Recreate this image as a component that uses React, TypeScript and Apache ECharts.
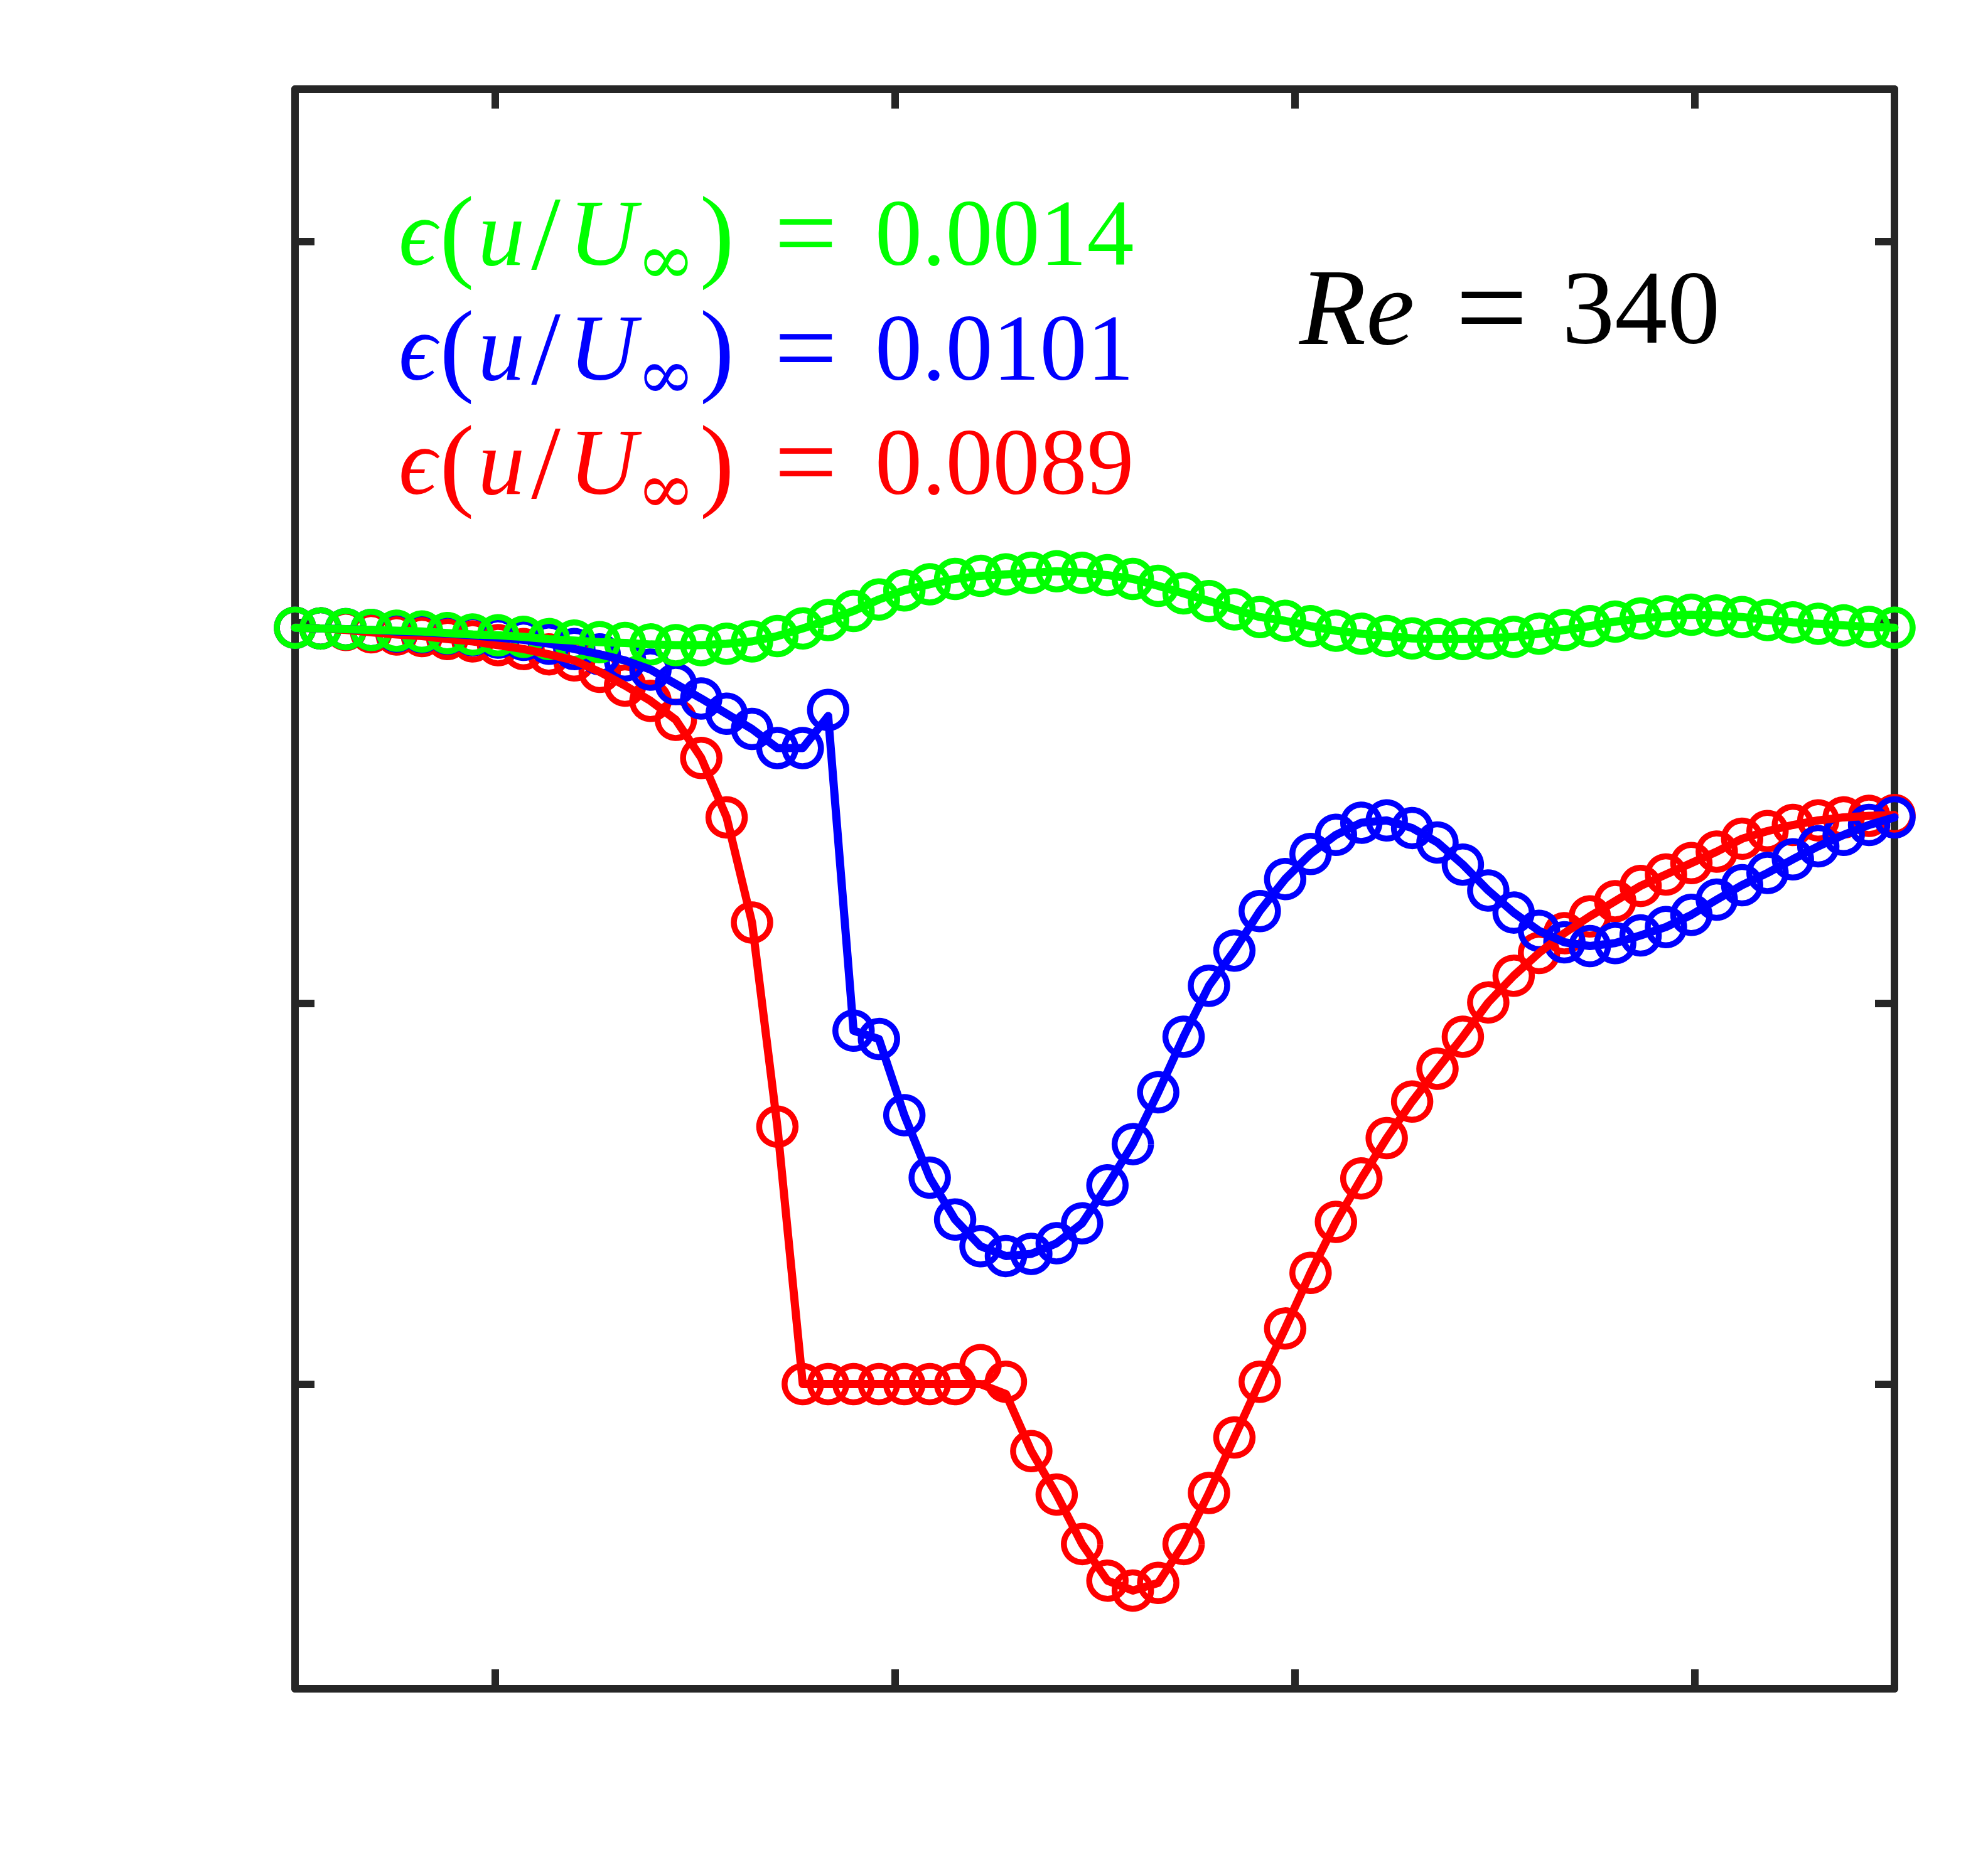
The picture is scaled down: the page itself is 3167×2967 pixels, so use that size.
import React, { useEffect, useRef } from "react";
import * as echarts from "echarts";

// x positions of the 64 samples (axis spans 0..4, unlabeled ticks at 0.5, 1.5, 2.5, 3.5)
const X = [
  0, 0.0635, 0.127, 0.1905, 0.254, 0.3175, 0.381, 0.4444, 0.5079, 0.5714,
  0.6349, 0.6984, 0.7619, 0.8254, 0.8889, 0.9524, 1.0159, 1.0794, 1.1429, 1.2063,
  1.2698, 1.3333, 1.3968, 1.4603, 1.5238, 1.5873, 1.6508, 1.7143, 1.7778, 1.8413,
  1.9048, 1.9683, 2.0317, 2.0952, 2.1587, 2.2222, 2.2857, 2.3492, 2.4127, 2.4762,
  2.5397, 2.6032, 2.6667, 2.7302, 2.7937, 2.8571, 2.9206, 2.9841, 3.0476, 3.1111,
  3.1746, 3.2381, 3.3016, 3.3651, 3.4286, 3.4921, 3.5556, 3.619, 3.6825, 3.746,
  3.8095, 3.873, 3.9365, 4.0,
];

const GREEN = [
  0.993, 0.992, 0.991, 0.99, 0.989, 0.988, 0.986, 0.984, 0.983, 0.981,
  0.978, 0.976, 0.974, 0.973, 0.971, 0.97, 0.97, 0.972, 0.975, 0.982,
  0.992, 1.003, 1.015, 1.03, 1.042, 1.05, 1.057, 1.061, 1.063, 1.065,
  1.067, 1.065, 1.062, 1.057, 1.048, 1.038, 1.028, 1.017, 1.007, 1.002,
  0.995, 0.989, 0.985, 0.982, 0.979, 0.978, 0.978, 0.979, 0.981, 0.985,
  0.99, 0.995, 1.001, 1.005, 1.008, 1.01, 1.009, 1.007, 1.003, 1.0,
  0.998, 0.996, 0.994, 0.993,
];

const BLUE = [
  0.993, 0.992, 0.991, 0.99, 0.988, 0.987, 0.985, 0.983, 0.98, 0.977,
  0.972, 0.965, 0.958, 0.95, 0.938, 0.919, 0.9, 0.88, 0.86, 0.835,
  0.835, 0.885, 0.464, 0.453, 0.353, 0.271, 0.216, 0.181, 0.168, 0.171,
  0.185, 0.211, 0.261, 0.315, 0.383, 0.456, 0.523, 0.569, 0.621, 0.663,
  0.696, 0.721, 0.737, 0.74, 0.73, 0.711, 0.682, 0.648, 0.619, 0.595,
  0.58, 0.575, 0.579, 0.589, 0.6, 0.616, 0.636, 0.655, 0.671, 0.689,
  0.706, 0.721, 0.734, 0.744,
];

const BLUE_LINE = [
  0.993, 0.992, 0.991, 0.99, 0.988, 0.987, 0.985, 0.983, 0.98, 0.977,
  0.972, 0.965, 0.958, 0.95, 0.938, 0.919, 0.9, 0.88, 0.86, 0.835,
  0.835, 0.877, 0.464, 0.453, 0.353, 0.271, 0.216, 0.181, 0.168, 0.171,
  0.185, 0.211, 0.261, 0.315, 0.383, 0.456, 0.523, 0.569, 0.621, 0.663,
  0.696, 0.721, 0.737, 0.74, 0.73, 0.711, 0.682, 0.648, 0.619, 0.595,
  0.58, 0.575, 0.579, 0.589, 0.6, 0.616, 0.636, 0.655, 0.671, 0.689,
  0.706, 0.721, 0.734, 0.744,
];

const RED = [
  0.993, 0.992, 0.99, 0.987, 0.984, 0.982, 0.978, 0.975, 0.97, 0.965,
  0.958, 0.95, 0.935, 0.917, 0.897, 0.872, 0.822, 0.744, 0.606, 0.338,
  0, 0, 0, 0, 0, 0, 0, 0.025, 0.003, -0.088,
  -0.145, -0.21, -0.258, -0.271, -0.261, -0.21, -0.143, -0.07, 0.003, 0.073,
  0.146, 0.213, 0.27, 0.323, 0.371, 0.414, 0.456, 0.501, 0.536, 0.566,
  0.592, 0.614, 0.634, 0.654, 0.669, 0.684, 0.699, 0.716, 0.726, 0.734,
  0.74, 0.744, 0.746, 0.747,
];

const RED_LINE = [
  0.993, 0.992, 0.99, 0.987, 0.984, 0.982, 0.978, 0.975, 0.97, 0.965,
  0.958, 0.95, 0.935, 0.917, 0.897, 0.872, 0.822, 0.744, 0.606, 0.338,
  0, 0, 0, 0, 0, 0, 0, 0, -0.013, -0.088,
  -0.145, -0.21, -0.258, -0.271, -0.261, -0.21, -0.143, -0.07, 0.003, 0.073,
  0.146, 0.213, 0.27, 0.323, 0.371, 0.414, 0.456, 0.501, 0.536, 0.566,
  0.592, 0.614, 0.634, 0.654, 0.669, 0.684, 0.699, 0.716, 0.726, 0.734,
  0.74, 0.744, 0.746, 0.747,
];

const X_TICKS = [0.5, 1.5, 2.5, 3.5];
const Y_TICKS = [0, 0.5, 1.0, 1.5];

const ERRORS = ["0.0014", "0.0101", "0.0089"];
const ERROR_COLORS = ["#00ff00", "#0000ff", "#ff0000"];
const RE_VALUE = "340";

const AXIS_COLOR = "#262626";
const FONT = "'Liberation Serif', 'DejaVu Serif', serif";
const FONT_SYM = "'DejaVu Serif', 'Liberation Serif', serif";

export default function App() {
  const ref = useRef<HTMLDivElement>(null);

  useEffect(() => {
    const chart = echarts.init(ref.current as HTMLDivElement, null, { renderer: "svg" });

    const pairs = (ys: number[]) => X.map((x, i) => [x, ys[i]]);

    const axisCommon = (ticks: number[]) => ({
      type: "value" as const,
      axisLine: { show: true, onZero: false, lineStyle: { color: AXIS_COLOR, width: 12 } },
      axisTick: {
        show: true,
        inside: true,
        length: 31,
        customValues: ticks,
        lineStyle: { color: AXIS_COLOR, width: 12 },
      },
      axisLabel: { show: false },
      splitLine: { show: false },
    });

    const scatter = (ys: number[], color: string) => ({
      type: "scatter",
      data: pairs(ys),
      symbol: "circle",
      symbolSize: 58,
      clip: false,
      silent: true,
      itemStyle: { color: "rgba(0,0,0,0)", borderColor: color, borderWidth: 9.5, opacity: 1 },
    });

    const line = (ys: number[], color: string) => ({
      type: "line",
      data: pairs(ys),
      symbol: "none",
      showSymbol: false,
      clip: false,
      silent: true,
      lineStyle: { color, width: 13, cap: "round", join: "round" },
    });

    const mathRich = (color: string, size: number) => ({
      e: { fontFamily: FONT, fontSize: size, lineHeight: size, fontStyle: "italic", fill: color },
      p: { fontFamily: FONT, fontSize: 165, lineHeight: size, fill: color, padding: [0, 0, 0, 5] },
      i: { fontFamily: FONT, fontSize: size, lineHeight: size, fontStyle: "italic", fill: color, padding: [0, 0, 0, 6] },
      sl: { fontFamily: FONT, fontSize: 168, lineHeight: size, fill: color, padding: [0, 13, 0, 10] },
      U: { fontFamily: FONT, fontSize: size, lineHeight: size, fontStyle: "italic", fill: color },
      s: {
        fontFamily: FONT_SYM,
        fontSize: 112,
        lineHeight: size,
        fill: color,
        padding: [84, 0, 0, 0],
      },
      p2: { fontFamily: FONT, fontSize: 165, lineHeight: size, fill: color, padding: [0, 0, 0, 7] },
      q: { fontFamily: FONT, fontSize: 178, lineHeight: size, fill: color, padding: [0, 60, 0, 64] },
    });

    const legendTexts = ERRORS.map((v, k) => ({
      type: "text",
      x: 635,
      y: 371 + k * 182.5,
      style: {
        text: "{e|ϵ}{p|(}{i|u}{sl|/}{U|U}{s|∞}{p2|)}{q|=}" + v,
        fill: ERROR_COLORS[k],
        fontFamily: FONT,
        fontSize: 150,
        lineHeight: 150,
        align: "left",
        verticalAlign: "middle",
        rich: mathRich(ERROR_COLORS[k], 150),
      },
    }));

    const option = {
      animation: false,
      backgroundColor: "#ffffff",
      grid: { left: 470, right: 149, top: 142, bottom: 276, containLabel: false },
      xAxis: [
        { ...axisCommon(X_TICKS), position: "bottom", min: 0, max: 4 },
        { ...axisCommon(X_TICKS), position: "top", min: 0, max: 4 },
      ],
      yAxis: [
        { ...axisCommon(Y_TICKS), position: "left", min: -0.4, max: 1.7 },
        { ...axisCommon(Y_TICKS), position: "right", min: -0.4, max: 1.7 },
      ],
      series: [
        scatter(RED, "#ff0000"),
        line(RED_LINE, "#ff0000"),
        scatter(BLUE, "#0000ff"),
        line(BLUE_LINE, "#0000ff"),
        scatter(GREEN, "#00ff00"),
        line(GREEN, "#00ff00"),
      ],
      graphic: [
        ...legendTexts,
        {
          type: "text",
          x: 2070,
          y: 489,
          style: {
            text: "{i|Re}{q|=}" + RE_VALUE,
            fill: "#000000",
            fontFamily: FONT,
            fontSize: 168,
            lineHeight: 168,
            align: "left",
            verticalAlign: "middle",
            rich: {
              i: { fontFamily: FONT, fontSize: 174, lineHeight: 168, fontStyle: "italic", fill: "#000000" },
              q: { fontFamily: FONT, fontSize: 205, lineHeight: 168, fill: "#000000", padding: [0, 54, 0, 65] },
            },
          },
        },
      ],
    };

    chart.setOption(option as any);
    return () => chart.dispose();
  }, []);

  return (
    <div
      ref={ref}
      style={{ position: "absolute", left: 0, top: 0, width: 3167, height: 2967, background: "#ffffff" }}
    />
  );
}
